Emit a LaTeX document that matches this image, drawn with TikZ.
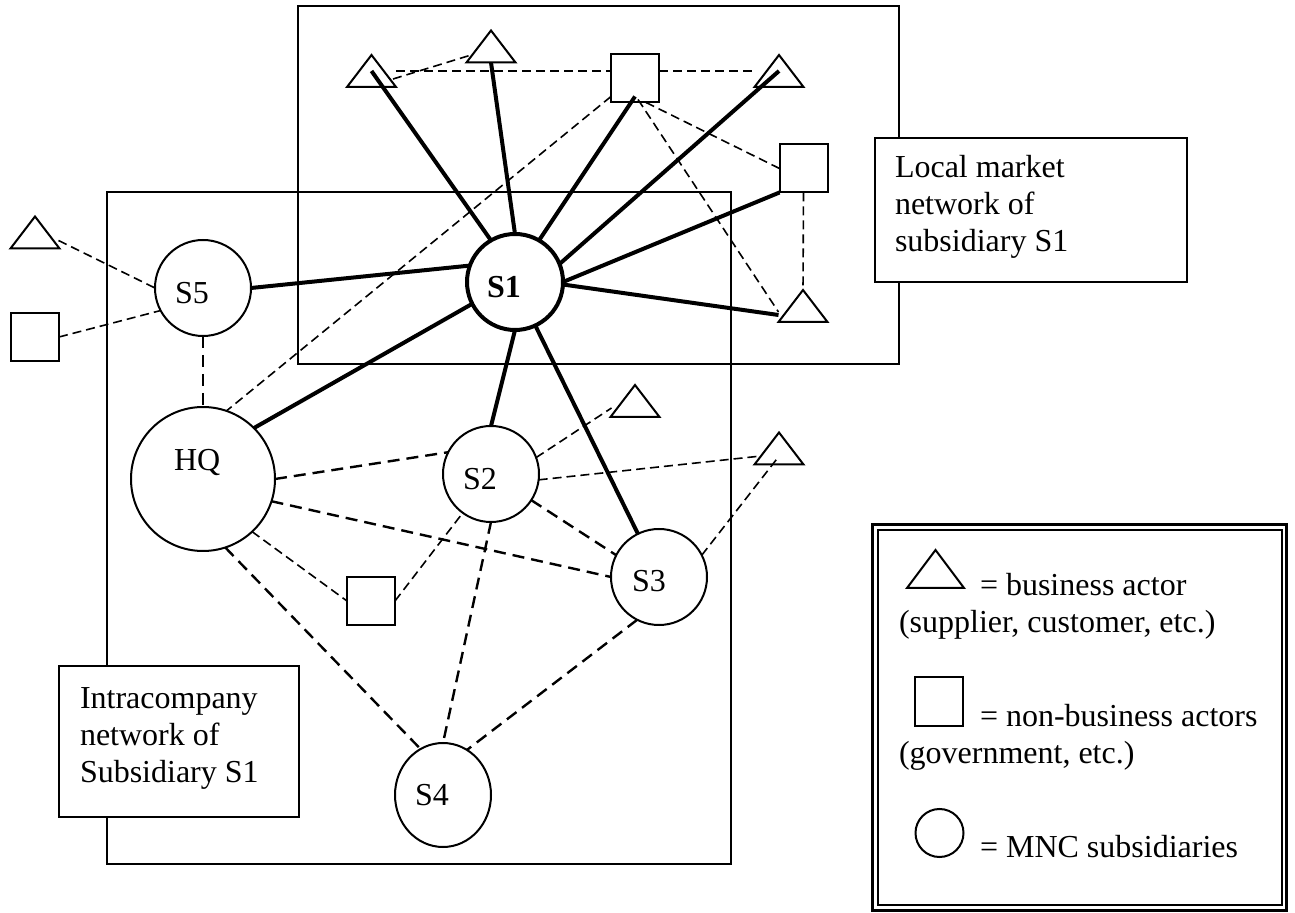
\documentclass[tikz,border=0pt]{standalone}
\usepackage{fontspec}
\setmainfont{Liberation Serif}
\usetikzlibrary{calc,shapes.geometric}
\begin{document}
\begin{tikzpicture}[x=0.5pt,y=-0.5pt,
  every node/.style={inner sep=0pt, outer sep=0pt},
  txt/.style={font=\fontsize{16}{18.5}\selectfont, anchor=base west, align=left},
  circ/.style={circle, draw, line width=1pt, minimum size=48pt, fill=white},
  sq/.style={rectangle, draw, line width=1pt, minimum size=24pt},
  tri/.style={rectangle, minimum width=24.5pt, minimum height=16pt},
  bigbox/.style={draw, line width=1.3pt},
  tbox/.style={draw, fill=white, line width=1.3pt},
  strong/.style={line width=2pt},
  dthin/.style={line width=0.8pt, dash pattern=on 4.5pt off 2.5pt},
  dthick/.style={line width=1.2pt, dash pattern=on 6pt off 3.5pt},
]
\useasboundingbox (0,0) rectangle (1295,913);

% network regions
\draw[bigbox] (298,6) rectangle (899,364);
\draw[bigbox] (107,192) rectangle (731,864);

% text boxes (multi-line text: base anchor = last line)
\node[tbox, minimum width=156pt, minimum height=72pt] (localbox) at (1031,210) {};
\node[tbox, minimum width=120pt, minimum height=75.5pt] (intrabox) at (179,741.5) {};
\node[txt] (localtxt) at (895,252) {Local market\\network of\\subsidiary S1};
\node[txt] (intratxt) at (80,782) {Intracompany\\network of\\Subsidiary S1};

% subsidiaries
\node[circ, line width=2pt] (S1) at (515,282) {};
\node[circ] (S5) at (203,288) {};
\node[circ, minimum size=72pt] (HQ) at (203,479) {};
\node[circ] (S2) at (491,474) {};
\node[circ] (S3) at (659,577) {};
\node[ellipse, draw, line width=1pt, fill=white, minimum width=48pt, minimum height=52pt] (S4) at (443,795) {};

% business actors
\node[tri] (t1) at (371.5,71) {};
\node[tri] (t2) at (491,46.5) {};
\node[tri] (t3) at (779,71) {};
\node[tri] (t4) at (803,306) {};
\node[tri] (t5) at (635,401) {};
\node[tri] (t6) at (779,448.5) {};
\node[tri] (t7) at (35,232.5) {};

% non-business actors
\node[sq] (q1) at (635,78.5) {};
\node[sq] (q2) at (803.5,168.5) {};
\node[sq] (q3) at (371,601) {};
\node[sq] (q4) at (35,337) {};

% legend
\draw[line width=1.5pt] (872.5,525) rectangle (1286.5,910.5);
\draw[line width=1pt] (878,530.5) rectangle (1281.5,905);
\node[tri, minimum width=28.5pt, minimum height=19pt] (lt) at (935.5,569) {};
\node[sq] (lq) at (939,701.5) {};
\node[circ, minimum size=24pt] (lc) at (939.5,833) {};
\node[txt] (lg1) at (899,633) {\hspace*{40.5pt}= business actor\\(supplier, customer, etc.)};
\node[txt] (lg2) at (899,763) {\hspace*{40.5pt}= non-business actors\\(government, etc.)};
\node[txt] (lg3) at (980,857) {= MNC subsidiaries};

\foreach \n in {t1,t2,t3,t4,t5,t6,t7,lt}
  \draw[line width=1pt, line join=miter] (\n.south west) -- (\n.north) -- (\n.south east) -- cycle;

% strong ties of S1
\draw[strong] (S1.120) -- (t1.center);
\draw[strong] (S1.90) -- (t2.south);
\draw[strong] (S1.60) -- ([yshift=3pt]q1.south);
\draw[strong] (S1.22) -- (t3.center);
\draw[strong] (S1.0) -- (q2.south west);
\draw[strong] (S1.-3) -- ([yshift=3.5pt]t4.south west);
\draw[strong] (S1.160) -- (S5.east);
\draw[strong] (S1.207) -- (HQ.45);
\draw[strong] (S1.270) -- (S2.90);
\draw[strong] (S1.295) -- (S3.116);

% weak ties
\draw[dthin] ($(t1.south east)+(-3,-8)$) -- ($(t2.south west)+(3,-7)$);
\draw[dthin] (t1.east) -- (t1.east -| q1.west);
\draw[dthin] (q1.east |- t3.west) -- (t3.west);
\draw[dthin] ($(q1.south west)+(0,-6)$) -- (HQ.71);
\draw[dthin] ($(q1.south)+(11,0)$) -- (q2.west);
\draw[dthin] ($(q1.south)+(3,-3)$) -- ($(t4.south west)+(0,-10)$);
\draw[dthin] (q2.south) -- (t4.north);
\draw[dthin] ($(t7.south east)+(-1,-8)$) -- (S5.180);
\draw[dthin] (q4.east) -- (S5.208);
\draw[dthin] (HQ.313) -- (q3.west);
\draw[dthin] (q3.east) -- (S2.234);
\draw[dthin] (S2.20) -- ($(t5.south west)+(1,-9)$);
\draw[dthin] (S2.353) -- ($(t6.south west)+(2,-8)$);
\draw[dthin] (S3.27) -- ($(t6.south)+(-1,-7)$);

\draw[dthick] (S5.south) -- (HQ.north);
\draw[dthick] (HQ.east) -- (S2.153);
\draw[dthick] (HQ.342) -- (S3.west);
\draw[dthick] (HQ.288) -- (S4.116);
\draw[dthick] (S2.south) -- (S4.north);
\draw[dthick] (S3.243) -- (S4.62);
\draw[dthick] (S2.327) -- (S3.153);

% labels
\node[txt] (S1l) at (487,298) {\textbf{S1}};
\node[txt] (S5l) at (175,304) {S5};
\node[txt] (HQl) at (174,471) {HQ};
\node[txt] (S2l) at (463,490) {S2};
\node[txt] (S3l) at (632,592) {S3};
\node[txt] (S4l) at (415,805) {S4};
\end{tikzpicture}
\end{document}
